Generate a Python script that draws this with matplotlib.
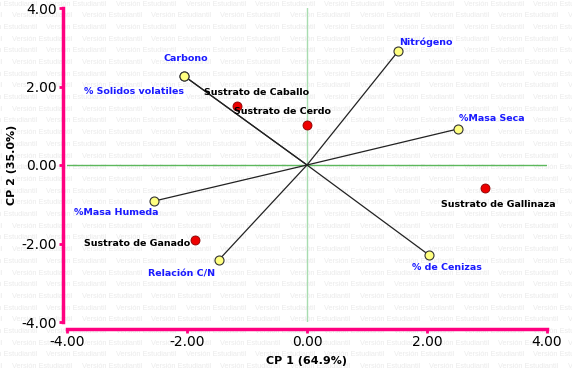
import numpy as np
import matplotlib.pyplot as plt

# ===============================
# DATA
# ===============================

var_names = ["Carbono", "% Solidos volatiles", "Nitrógeno", "%Masa Seca",
             "% de Cenizas", "Relación C/N", "%Masa Humeda"]
var_cp1 = [-2.05, -2.05, 1.52, 2.52, 2.03, -1.47, -2.55]
var_cp2 = [2.27, 2.27, 2.90, 0.92, -2.29, -2.42, -0.92]

obs_names = ["Sustrato de Caballo", "Sustrato de Cerdo",
             "Sustrato de Gallinaza", "Sustrato de Ganado"]
obs_cp1 = [-1.17, 0.00, 2.97, -1.87]
obs_cp2 = [1.50, 1.02, -0.59, -1.91]

ticks = [-4.0, -2.0, 0.0, 2.0, 4.0]

# label offsets in pixels (style only)
var_off = [(2, 17), (-50, -16), (28, 9), (34, 10), (18, -13), (-37, -14), (-38, -11)]
obs_off = [(20, 14), (-25, 13), (13, -16), (-58, -4)]

PINK = "#ff0080"

fig = plt.figure(figsize=(5.72, 3.69), dpi=100)

# watermark (background)
for r in range(32):
    y = 1 - (4 + r * 11.7) / 369
    shift = 0 if r % 2 else 35
    for c in range(-1, 10):
        x = (12 - shift + c * 69.5) / 572
        fig.text(x, y, "Versión Estudiantil", fontsize=5.3, color="#ebebeb",
                 family="Liberation Sans", va="center", ha="left", zorder=-10)

ax = fig.add_axes([67 / 572, 1 - 322 / 369, 480 / 572, 314 / 369])
ax.patch.set_alpha(0)

ax.axhline(0, color="#5cb85c", lw=1, zorder=1)
ax.axvline(0, color="#a8dcb0", lw=1, zorder=1)

for x, y in zip(var_cp1, var_cp2):
    ax.plot([0, x], [0, y], color="#222222", lw=0.9, zorder=2)

ax.scatter(var_cp1, var_cp2, s=42, color="#ffff80", edgecolor="#333333",
           lw=0.8, zorder=3)
ax.scatter(obs_cp1, obs_cp2, s=42, color="#ee0000", edgecolor="#880000",
           lw=0.6, zorder=3)

for n, x, y, o in zip(var_names, var_cp1, var_cp2, var_off):
    ax.annotate(n, (x, y), xytext=o, textcoords="offset pixels", ha="center",
                va="center", fontsize=6.8, fontweight="bold", color="#1a1aff")
for n, x, y, o in zip(obs_names, obs_cp1, obs_cp2, obs_off):
    ax.annotate(n, (x, y), xytext=o, textcoords="offset pixels", ha="center",
                va="center", fontsize=6.8, fontweight="bold", color="black")

ax.set_xlim(-4, 4)
ax.set_ylim(-4, 4)
ax.set_xticks(ticks)
ax.set_yticks(ticks)
ax.set_xticklabels([f"{t:.2f}" for t in ticks], fontsize=7, fontweight="bold")
ax.set_yticklabels([f"{t:.2f}" for t in ticks], fontsize=7, fontweight="bold")
ax.tick_params(color=PINK, width=2, length=3, pad=1.5)

for s in ["top", "right"]:
    ax.spines[s].set_visible(False)
ax.spines["left"].set_position(("outward", 3))
ax.spines["bottom"].set_position(("outward", 5))
for s in ["left", "bottom"]:
    ax.spines[s].set_color(PINK)
    ax.spines[s].set_linewidth(2.5)

ax.set_xlabel("CP 1 (64.9%)", fontsize=8, fontweight="bold", labelpad=5)
ax.set_ylabel("CP 2 (35.0%)", fontsize=8, fontweight="bold", labelpad=3)

fig.savefig("out.png", dpi=100)
